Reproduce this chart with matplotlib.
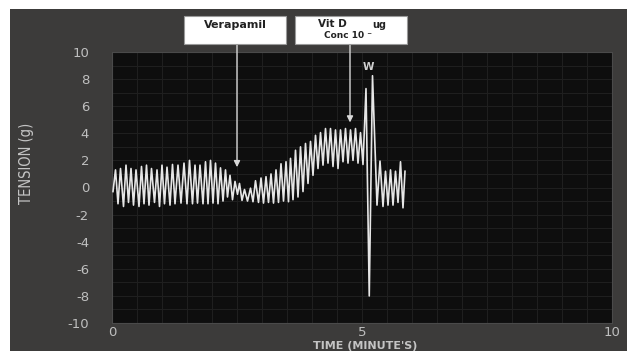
import matplotlib
matplotlib.use("Agg")
import matplotlib.pyplot as plt
from matplotlib.patches import Rectangle
from matplotlib.ticker import MultipleLocator

plt.rcParams["axes.unicode_minus"] = False

# Tension trace: alternating peaks and troughs of the contraction record
trace_t = [0.02, 0.07, 0.12, 0.17, 0.23, 0.28, 0.33, 0.38, 0.43, 0.48,
           0.54, 0.59, 0.64, 0.69, 0.74, 0.79, 0.85, 0.90, 0.95, 1.00,
           1.05, 1.10, 1.16, 1.21, 1.26, 1.32, 1.38, 1.44, 1.50, 1.55,
           1.61, 1.66, 1.71, 1.76, 1.82, 1.87, 1.92, 1.97, 2.02, 2.07,
           2.12, 2.17, 2.22, 2.27, 2.31, 2.36, 2.41, 2.46, 2.51, 2.55,
           2.60, 2.65, 2.71, 2.77, 2.82, 2.87, 2.93, 2.98, 3.03, 3.08,
           3.13, 3.18, 3.23, 3.28, 3.33, 3.38, 3.43, 3.48, 3.53, 3.57,
           3.62, 3.67, 3.72, 3.77, 3.82, 3.87, 3.92, 3.97, 4.02, 4.07,
           4.12, 4.17, 4.22, 4.27, 4.32, 4.37, 4.42, 4.47, 4.52, 4.57,
           4.62, 4.67, 4.72, 4.77, 4.82, 4.87, 4.92, 4.97, 5.02, 5.08,
           5.145, 5.21, 5.30, 5.36, 5.42, 5.47, 5.52, 5.57, 5.62, 5.67,
           5.72, 5.77, 5.82, 5.86]
trace_v = [-0.3, 1.3, -1.2, 1.4, -1.4, 1.65, -1.1, 1.4, -1.3, 1.3,
           -1.4, 1.55, -1.2, 1.65, -1.3, 1.4, -1.1, 1.3, -1.4, 1.65,
           -1.2, 1.5, -1.3, 1.7, -1.2, 1.65, -1.15, 1.8, -1.2, 2.0,
           -1.2, 1.65, -1.15, 1.65, -1.2, 1.9, -1.2, 2.0, -1.15, 1.8,
           -1.2, 1.45, -1.0, 1.3, -0.7, 0.9, -0.9, 0.45, -0.5, 0.3,
           -0.95, -0.15, -1.0, -0.05, -1.05, 0.5, -1.1, 0.7, -1.15, 0.8,
           -1.1, 1.0, -1.15, 1.3, -1.1, 1.75, -1.0, 1.9, -1.05, 2.15,
           -0.9, 2.75, -0.7, 3.0, -0.3, 3.25, 0.3, 3.4, 0.9, 3.85,
           1.4, 4.05, 1.65, 4.35, 1.8, 4.35, 1.55, 4.25, 1.4, 4.25,
           1.9, 4.35, 1.8, 4.25, 2.0, 4.35, 1.8, 4.05, 1.7, 7.3,
           -8.0, 8.25, -1.3, 1.95, -1.4, 1.2, -1.3, 1.3, -1.3, 1.2,
           -1.1, 1.9, -1.5, 1.2]

# Drug additions: (time, tension at arrow tip)
verapamil_t, verapamil_v = 2.5, 1.5
vitd_t, vitd_v = 4.76, 4.8
w_t, w_v = 5.12, 8.9

x_ticks = [0, 5, 10]
y_ticks = list(range(-10, 11, 2))

W, H = 627, 351
fig = plt.figure(figsize=(W / 100, H / 100), dpi=100, facecolor="white")

# dark panel behind the chart
fig.patches.append(Rectangle((10 / W, 0), 1 - 10 / W, (H - 9) / H,
                             transform=fig.transFigure, facecolor="#3c3b3a",
                             edgecolor="none", zorder=-10))

ax = fig.add_axes([112 / W, 28 / H, 500 / W, 271 / H])
ax.set_zorder(1)
ax.set_facecolor("#0e0e0e")
ax.plot(trace_t, trace_v, color="#e6e6e6", lw=1.2, solid_joinstyle="round",
        zorder=3)

ax.set_xlim(0, 10)
ax.set_ylim(-10, 10)
ax.set_xticks(x_ticks)
ax.set_yticks(y_ticks)
ax.xaxis.set_minor_locator(MultipleLocator(0.5))
ax.yaxis.set_minor_locator(MultipleLocator(1))
ax.grid(which="both", color="#1f1f1f", lw=0.8)
ax.set_axisbelow(True)
for s in ax.spines.values():
    s.set_color("#4a4a4a")
    s.set_linewidth(0.8)
ax.tick_params(which="both", length=0)
ax.tick_params(axis="y", pad=16.5, labelsize=9.5, labelcolor="#bfbfbf")
ax.tick_params(axis="x", pad=2, labelsize=9.5, labelcolor="#bfbfbf")

fig.text(365 / W, 1 - 346 / H, "TIME (MINUTE'S)", ha="center", va="center",
         fontsize=8, fontweight="bold", color="#c4c4c4")
fig.text(27 / W, 1 - 163 / H, "TENSION (g)", ha="center", va="center",
         rotation=90, fontsize=10.5, color="#c4c4c4",
         family=["Liberation Sans Narrow", "DejaVu Sans"], fontstretch="condensed")

ax.text(w_t, w_v, "W", ha="center", va="center", fontsize=7.5,
        fontweight="bold", color="#d0d0d0")

# label boxes above the chart
box_bottom = H - 44
for x0, x1 in [(184, 286), (295, 407)]:
    fig.patches.append(Rectangle((x0 / W, box_bottom / H), (x1 - x0) / W, 28 / H,
                                 transform=fig.transFigure, facecolor="white",
                                 edgecolor="#9a9a9a", lw=0.8, zorder=5))
fig.text(235 / W, 1 - 25 / H, "Verapamil", ha="center", va="center",
         fontsize=8, fontweight="bold", color="#222222", zorder=6)
fig.text(332 / W, 1 - 24 / H, "Vit D", ha="center", va="center",
         fontsize=7.5, fontweight="bold", color="#222222", zorder=6)
fig.text(379 / W, 1 - 25 / H, "ug", ha="center", va="center",
         fontsize=7, fontweight="bold", color="#222222", zorder=6)
fig.text(348 / W, 1 - 36 / H, "Conc 10 \u207b", ha="center", va="center",
         fontsize=6.5, fontweight="bold", color="#222222", zorder=6)

for t, v in [(verapamil_t, verapamil_v), (vitd_t, vitd_v)]:
    ax.annotate("", xy=(t, v), xycoords="data",
                xytext=(t, box_bottom), textcoords=("data", "figure pixels"),
                arrowprops=dict(arrowstyle="-|>", color="#d8d8d8", lw=1.0,
                                mutation_scale=9, shrinkA=0, shrinkB=0),
                annotation_clip=False, zorder=4)

fig.savefig("out.png", dpi=100, facecolor="white")
